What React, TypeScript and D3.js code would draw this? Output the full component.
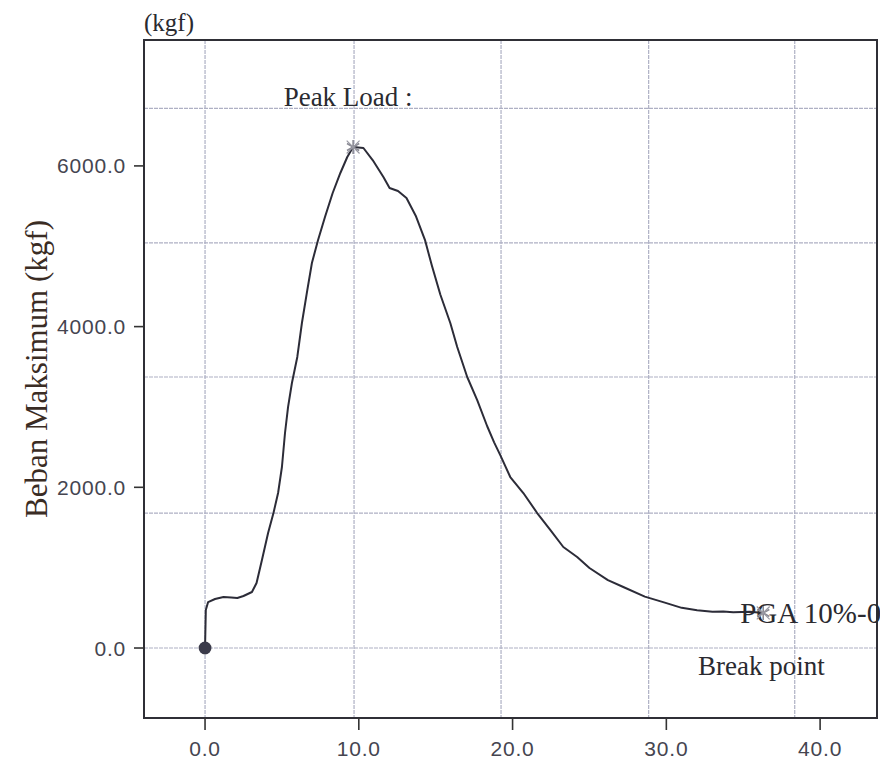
import React from "react";
import * as d3 from "d3";

// ---- data ----
const strain = [0, 0.05, 0.2, 0.65, 1.2, 1.7, 2.1, 2.5, 3.05, 3.35, 3.7, 4.1, 4.45, 4.75, 5.0, 5.2, 5.4, 5.65, 6.0, 6.3, 6.65, 6.95, 7.35, 7.8, 8.3, 8.8, 9.25, 9.63, 10.3, 10.9, 11.6, 12.0, 12.55, 13.1, 13.7, 14.3, 14.75, 15.3, 15.95, 16.4, 17.05, 17.7, 18.35, 18.8, 19.2, 19.85, 20.7, 21.6, 22.45, 23.3, 24.2, 25.0, 26.2, 27.2, 28.6, 29.9, 31.0, 32.0, 33.0, 33.7, 34.35, 35.45, 36.3];
const load = [0, 473, 572, 610, 635, 630, 622, 647, 697, 809, 1095, 1431, 1680, 1929, 2253, 2676, 3000, 3298, 3622, 4045, 4455, 4792, 5078, 5364, 5663, 5912, 6111, 6235, 6223, 6073, 5862, 5725, 5688, 5600, 5380, 5080, 4760, 4400, 4045, 3746, 3373, 3086, 2760, 2560, 2400, 2128, 1929, 1680, 1469, 1257, 1133, 996, 846, 759, 640, 565, 500, 470, 450, 455, 445, 450, 436];

const xTicks = [0, 10, 20, 30, 40];
const yTicks = [0, 2000, 4000, 6000];
const xGrid = [0, 9.69, 19.25, 28.85, 38.35];
const yGrid = [0, 1680, 3373, 5041, 6717];

const peakPoint = { x: 9.63, y: 6235 };
const breakPoint = { x: 36.3, y: 436 };
const startPoint = { x: 0, y: 0 };

const yTitle = "Beban Maksimum (kgf)";
const unitLabel = "(kgf)";
const peakLabel = "Peak Load :";
const sampleLabel = "PGA 10%-0";
const breakLabel = "Break point";

export default function App() {
  const W = 880, H = 761;
  const left = 144, right = 877, top = 40, bottom = 718;
  const x = d3.scaleLinear().domain([-3.97, 43.7]).range([left, right]);
  const y = d3.scaleLinear().domain([-871, 7567]).range([bottom, top]);

  const pts: [number, number][] = strain.map((s, i) => [s, load[i]]);
  const line = d3.line<[number, number]>().x(d => x(d[0])).y(d => y(d[1])).curve(d3.curveLinear);

  const gridColor = "#aeb0c4";
  const tickFont = "'Liberation Sans', Arial, sans-serif";
  const serif = "'Liberation Serif', 'Times New Roman', serif";

  const star = d3.symbol().type(d3.symbolAsterisk).size(140)();
  const times = d3.symbol().type(d3.symbolTimes).size(110)();
  const dot = d3.symbol().type(d3.symbolCircle).size(130)();

  return (
    <svg width={W} height={H} style={{ position: "absolute", left: 0, top: 0, background: "#fff" }}>
      {/* grid */}
      <g stroke={gridColor} strokeWidth={1.2} strokeDasharray="4 1">
        {xGrid.map((g, i) => (
          <line key={"gx" + i} x1={x(g)} x2={x(g)} y1={top} y2={bottom} />
        ))}
        {yGrid.map((g, i) => (
          <line key={"gy" + i} x1={left} x2={right} y1={y(g)} y2={y(g)} />
        ))}
      </g>
      {/* frame */}
      <rect x={left} y={top} width={right - left} height={bottom - top} fill="none" stroke="#2f2f36" strokeWidth={2} />
      {/* y ticks */}
      {yTicks.map((t, i) => (
        <g key={"yt" + i}>
          <line x1={left - 10} x2={left} y1={y(t)} y2={y(t)} stroke="#333" strokeWidth={1.6} />
          <text x={left - 18} y={y(t)} dy="0.36em" textAnchor="end" fontFamily={tickFont} fontSize={21} letterSpacing={0.8} fill="#454550">
            {t.toFixed(1)}
          </text>
        </g>
      ))}
      {/* x ticks */}
      {xTicks.map((t, i) => (
        <g key={"xt" + i}>
          <line x1={x(t)} x2={x(t)} y1={bottom} y2={bottom + 12} stroke="#333" strokeWidth={1.6} />
          <text x={x(t)} y={bottom + 38} textAnchor="middle" fontFamily={tickFont} fontSize={21} letterSpacing={0.8} fill="#454550">
            {t.toFixed(1)}
          </text>
        </g>
      ))}
      {/* titles */}
      <text x={left} y={31} fontFamily={serif} fontSize={25} fill="#2a2a30">{unitLabel}</text>
      <text transform={`translate(47, ${(216 + 522) / 2}) rotate(-90)`} textAnchor="middle" fontFamily={serif} fontSize={31} fill="#3a2c24">
        {yTitle}
      </text>
      {/* curve */}
      <path d={line(pts) || ""} fill="none" stroke="#2c2c38" strokeWidth={2} strokeLinejoin="round" />
      <path d={star || ""} transform={`translate(${x(peakPoint.x)}, ${y(peakPoint.y)})`} fill="none" stroke="#8a8a94" strokeWidth={1.6} />
      <path d={times || ""} transform={`translate(${x(peakPoint.x)}, ${y(peakPoint.y)})`} fill="none" stroke="#9a9aa4" strokeWidth={1.2} />
      <path d={dot || ""} transform={`translate(${x(startPoint.x)}, ${y(startPoint.y)})`} fill="#3b3b4a" />
      <text x={x(peakPoint.x) - 5} y={106} textAnchor="middle" fontFamily={serif} fontSize={27} fill="#2a2a30">{peakLabel}</text>
      <text x={x(breakPoint.x) - 23} y={623} fontFamily={serif} fontSize={29} fill="#2a2a30">{sampleLabel}</text>
      <path d={star || ""} transform={`translate(${x(breakPoint.x)}, ${y(breakPoint.y)})`} fill="none" stroke="#8a8a94" strokeWidth={1.6} />
      <path d={times || ""} transform={`translate(${x(breakPoint.x)}, ${y(breakPoint.y)})`} fill="none" stroke="#9a9aa4" strokeWidth={1.2} />
      <text x={698} y={675} fontFamily={serif} fontSize={27} fill="#2a2a30">{breakLabel}</text>
    </svg>
  );
}
